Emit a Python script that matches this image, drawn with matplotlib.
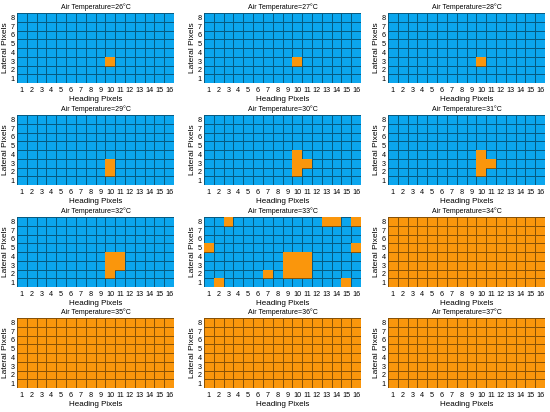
import matplotlib
matplotlib.use('Agg')
import matplotlib.pyplot as plt
from matplotlib.colors import ListedColormap
import numpy as np

plt.rcParams['font.family'] = ['Liberation Sans', 'DejaVu Sans']

# air temperatures, one panel each
temps = [26, 27, 28, 29, 30, 31, 32, 33, 34, 35, 36, 37]

# orange (heading, lateral) pixels per panel
hot_26 = [(10, 3)]
hot_27 = [(10, 3)]
hot_28 = [(10, 3)]
hot_29 = [(10, 2), (10, 3)]
hot_30 = [(10, 2), (10, 3), (10, 4), (11, 3)]
hot_31 = [(10, 2), (10, 3), (10, 4), (11, 3)]
hot_32 = [(10, 2), (10, 3), (10, 4), (11, 3), (11, 4)]
hot_33 = [(3, 8), (13, 8), (14, 8), (16, 8), (1, 5), (16, 5),
          (9, 2), (9, 3), (9, 4), (10, 2), (10, 3), (10, 4),
          (11, 2), (11, 3), (11, 4), (7, 2), (2, 1), (15, 1)]
# panels where every pixel is orange
full_hot = [34, 35, 36, 37]

hot_cells = [hot_26, hot_27, hot_28, hot_29, hot_30, hot_31, hot_32, hot_33,
             [], [], [], []]

n_head = 16
n_lat = 8
head_ticks = list(range(1, n_head + 1))
lat_ticks = list(range(1, n_lat + 1))

c_blue = '#0BA6EE'
c_orange = '#FA960C'
cmap = ListedColormap([c_blue, c_orange])

fig = plt.figure(figsize=(5.5, 4.12), dpi=100)

W, H = 550, 412
col_left = [17, 204, 388]
row_top = [13, 115, 217, 318]
ax_w = 157
ax_h = 70

xe = np.arange(0.5, n_head + 1)
ye = np.arange(0.5, n_lat + 1)

for i, t in enumerate(temps):
    r, c = divmod(i, 3)
    left = col_left[c] / W
    bottom = 1 - (row_top[r] + ax_h) / H
    ax = fig.add_axes([left, bottom, ax_w / W, ax_h / H])

    grid = np.zeros((n_lat, n_head))
    if t in full_hot:
        grid[:, :] = 1
    for hx, ly in hot_cells[i]:
        grid[ly - 1, hx - 1] = 1

    ax.pcolormesh(xe, ye, grid, cmap=cmap, vmin=0, vmax=1,
                  edgecolors=(0, 0, 0, 0.45), linewidth=0.5)
    if t not in full_hot:
        # orange spots drawn on top without grid edges
        spot = np.ma.masked_where(grid == 0, grid)
        ax.pcolormesh(xe, ye, spot, cmap=cmap, vmin=0, vmax=1,
                      edgecolors='none')

    ax.set_xlim(0.5, n_head + 0.5)
    ax.set_ylim(0.5, n_lat + 0.5)
    ax.set_xticks(head_ticks)
    ax.set_yticks(lat_ticks)
    ax.tick_params(axis='x', length=0, labelsize=5.2, pad=3)
    ax.tick_params(axis='y', length=0, labelsize=5.2, pad=1.5)
    for s in ax.spines.values():
        s.set_visible(False)
    ax.set_title(f'Air Temperature={t}°C', fontsize=5, pad=3)
    ax.set_xlabel('Heading Pixels', fontsize=5.8, labelpad=1)
    ax.set_ylabel('Lateral Pixels', fontsize=6, labelpad=1.5)

fig.savefig('out.png', dpi=100, facecolor='white')
